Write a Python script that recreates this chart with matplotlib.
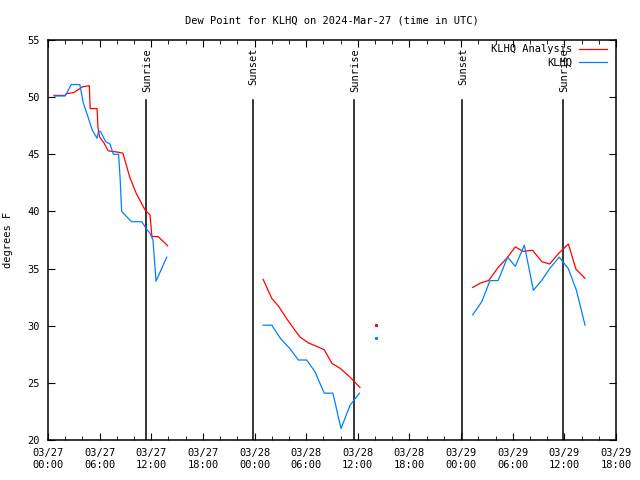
import numpy as np
import matplotlib
matplotlib.use("Agg")
import matplotlib.pyplot as plt

# hours since 2024-03-27 00:00 UTC; nan = gap in the record
anaHours = [0.7, 2.0, 2.1, 3.0, 4.0, 4.8, 4.9, 5.7, 5.8, 6.0, 6.5, 7.0, 8.0, 8.7,
            9.5, 10.3, 11.3, 11.85, 12.08, 12.8, 13.9, np.nan,
            25.0, 26.0, 26.8, 27.7, 28.7, 29.3, 30.25, 31.2, 32.1, 33.0, 33.9, 35.1, 36.25, np.nan,
            38.1, np.nan,
            49.35, 50.3, 51.2, 52.3, 53.3, 54.3, 55.2, 56.3, 57.4, 58.3, 59.3, 60.46, 61.35, 62.4]
anaDew = [50.15, 50.15, 50.3, 50.4, 50.9, 51.0, 49.0, 49.0, 47.4, 46.5, 46.0, 45.3, 45.2, 45.1,
          43.0, 41.5, 40.1, 39.7, 37.8, 37.8, 37.0, np.nan,
          34.05, 32.4, 31.7, 30.65, 29.6, 29.0, 28.5, 28.2, 27.9, 26.7, 26.3, 25.5, 24.6, np.nan,
          30.05, np.nan,
          33.35, 33.75, 33.95, 35.1, 35.9, 36.9, 36.5, 36.6, 35.6, 35.4, 36.3, 37.15, 34.95, 34.15]

obsHours = [0.7, 2.0, 2.7, 3.7, 4.1, 4.7, 5.15, 5.7, 5.85, 6.1, 6.7, 7.2, 7.6, 8.2, 8.37,
            8.56, 9.7, 10.9, 11.5, 11.85, 12.2, 12.55, 13.8, np.nan,
            25.0, 26.0, 27.0, 28.1, 29.1, 30.06, 31.0, 32.1, 33.1, 34.05, 35.1, 36.2, np.nan,
            38.1, np.nan,
            49.35, 50.4, 51.36, 52.3, 53.4, 54.3, 55.35, 56.4, 57.4, 58.3, 59.4, 60.46, 61.4, 62.4]
obsDew = [50.1, 50.1, 51.1, 51.1, 49.5, 48.15, 47.1, 46.4, 47.0, 47.0, 46.1, 45.9, 45.0, 45.0, 43.0,
          40.0, 39.1, 39.1, 38.4, 38.1, 37.5, 33.9, 36.0, np.nan,
          30.05, 30.05, 28.9, 28.0, 27.0, 27.0, 26.0, 24.1, 24.1, 21.0, 23.05, 24.1, np.nan,
          28.9, np.nan,
          30.95, 32.1, 33.95, 33.95, 36.0, 35.2, 37.05, 33.1, 34.0, 35.0, 36.0, 35.0, 33.1, 30.05]

sunHours = [11.4, 23.8, 35.56, 48.1, 59.84]
sunNames = ["Sunrise", "Sunset", "Sunrise", "Sunset", "Sunrise"]

tickHours = np.arange(0, 67, 6)
tickLabels = ["03/27\n00:00", "03/27\n06:00", "03/27\n12:00", "03/27\n18:00",
              "03/28\n00:00", "03/28\n06:00", "03/28\n12:00", "03/28\n18:00",
              "03/29\n00:00", "03/29\n06:00", "03/29\n12:00", "03/29\n18:00"]

plt.rcParams['font.family'] = 'DejaVu Sans Mono'
plt.rcParams['font.size'] = 7.5

fig = plt.figure(figsize=(6.4, 4.8), dpi=100)
ax = fig.add_axes([0.075, 0.0833, 0.8875, 0.8334])

for h, name in zip(sunHours, sunNames):
    ax.plot([h, h], [20, 49.75], color='black', lw=1.1)
    ax.text(h + 0.1, 54.3, name, rotation=90, ha='center', va='top')

ax.plot(anaHours, anaDew, color='#ff0000', lw=0.9, label='KLHQ Analysis')
ax.plot(obsHours, obsDew, color='#0080ff', lw=0.9, label='KLHQ')
# single isolated samples need a marker to show
ax.plot([38.1], [30.05], 's', color='#ff0000', ms=1.2)
ax.plot([38.1], [28.9], 's', color='#0080ff', ms=1.2)

ax.set_xlim(0, 66)
ax.set_ylim(20, 55)
ax.set_xticks(tickHours)
ax.set_xticklabels(tickLabels)
ax.set_xticks(np.arange(0, 67, 2), minor=True)
ax.set_yticks(np.arange(20, 56, 5))
ax.tick_params(which='both', direction='in', top=True, right=True, pad=6)
ax.tick_params(which='major', length=5)
ax.tick_params(which='minor', length=3)
for s in ax.spines.values():
    s.set_linewidth(1.1)

ax.set_title('Dew Point for KLHQ on 2024-Mar-27 (time in UTC)', fontsize=7.5, pad=12)
ax.set_ylabel('degrees F', labelpad=10)

leg = ax.legend(loc='upper right', bbox_to_anchor=(0.995, 1.005), frameon=False,
                markerfirst=False, handlelength=2.7, handletextpad=0.6,
                borderaxespad=0.2, labelspacing=0.3)
for t in leg.get_texts():
    t.set_ha('right')
leg._legend_box.align = 'right'

fig.savefig('out.png', dpi=100)
